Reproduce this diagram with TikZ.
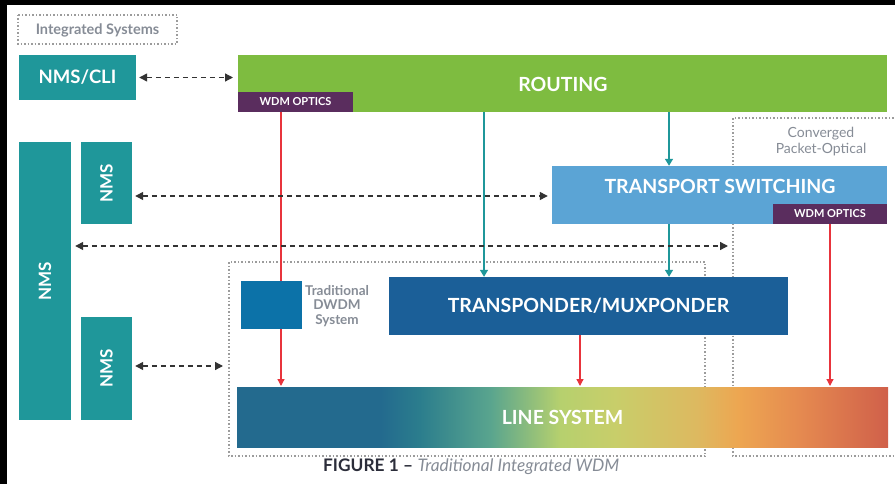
\documentclass[tikz,border=0pt]{standalone}
\usepackage{fontspec}
\setmainfont{Lato}
\usetikzlibrary{arrows.meta}
\definecolor{teal1}{HTML}{1F979A}
\definecolor{green1}{HTML}{7EBC40}
\definecolor{purp}{HTML}{5A2D5E}
\definecolor{tsblue}{HTML}{5BA4D5}
\definecolor{tmblue}{HTML}{1B5F98}
\definecolor{sqblue}{HTML}{0C72A8}
\definecolor{redA}{HTML}{E8343C}
\definecolor{dgray}{HTML}{333333}
\definecolor{dotgray}{HTML}{9C9C9C}
\definecolor{txtgray}{HTML}{868C96}
\definecolor{capdark}{HTML}{2B2D3A}
\definecolor{ls1}{HTML}{236A8E}
\definecolor{ls2}{HTML}{2B7D8D}
\definecolor{ls3}{HTML}{5AA58E}
\definecolor{ls4}{HTML}{B6D06E}
\definecolor{ls5}{HTML}{C8CE6A}
\definecolor{ls6}{HTML}{DDB960}
\definecolor{ls7}{HTML}{EDA651}
\definecolor{ls8}{HTML}{E58A50}
\definecolor{ls9}{HTML}{D0604A}
\pgfdeclarehorizontalshading{linesys}{100bp}{color(0bp)=(ls1); color(25bp)=(ls1); color(36bp)=(ls1); color(39bp)=(ls2); color(44.5bp)=(ls3); color(49.8bp)=(ls4); color(54bp)=(ls5); color(60.3bp)=(ls6); color(63.5bp)=(ls7); color(68.2bp)=(ls8); color(75bp)=(ls9); color(100bp)=(ls9)}
\tikzset{
  blk/.style={draw=none, inner sep=0pt, text=white, font=\bfseries\fontsize{19.5}{19.5}\selectfont},
  bigtxt/.style={text=white, inner sep=0pt, font=\bfseries\fontsize{19.5}{19.5}\selectfont},
  nmsbox/.style={blk, fill=teal1},
  nmstxt/.style={text=white, inner sep=0pt, rotate=90, font=\bfseries\fontsize{17}{17}\selectfont},
  wdm/.style={draw=none, fill=purp, inner sep=0pt, text=white, font=\bfseries\fontsize{11}{11}\selectfont},
  dashar/.style={draw=dgray, line width=1.3pt, dash pattern=on 5pt off 4pt, {Triangle[length=8pt,width=8pt]}-{Triangle[length=8pt,width=8pt]}},
  dotbox/.style={draw=dotgray, line width=1.5pt, dash pattern=on 1.5pt off 2pt},
  redar/.style={draw=redA, line width=1.3pt, -{Triangle[length=7pt,width=7pt]}},
  tealar/.style={draw=teal1, line width=1.3pt, -{Triangle[length=7pt,width=8pt]}},
  graytxt/.style={text=txtgray, align=center, inner sep=0pt},
}
\begin{document}
\begin{tikzpicture}[x=1pt,y=-1pt]
\useasboundingbox (0,0) rectangle (895,484);
\fill[black] (0,0) rectangle (895,484);
\fill[white] (7,5) rectangle (895,484);

% dotted frames
\draw[dotbox] (18,15) rectangle (177,44);
\node[graytxt, font=\bfseries\fontsize{14.5}{14.5}\selectfont] (intsys) at (97.5,30) {Integrated Systems};
\draw[dotbox] (229,262) rectangle (705,456);
\draw[dotbox] (897,118) -- (733,118) -- (733,456) -- (897,456);
\node[graytxt, font=\fontsize{14}{16}\selectfont] (conv) at (821,142) {Converged\\Packet-Optical};

% boxes
\node[nmsbox, minimum width=117pt, minimum height=45pt, font=\bfseries\fontsize{18.5}{18.5}\selectfont] (cli) at (77.5,77.5) {NMS/CLI};
\node[blk, fill=green1, minimum width=649pt, minimum height=57pt] (rout) at (562.5,83.5) {};
\node[bigtxt] (routl) at (563,84) {ROUTING};
\node[wdm, minimum width=115pt, minimum height=20pt] (wdm1) at (295.5,102) {WDM OPTICS};

\node[nmsbox, minimum width=52pt, minimum height=278pt] (nmsbig) at (45,281) {};
\node[nmstxt] at (nmsbig) {NMS};
\node[nmsbox, minimum width=51pt, minimum height=82pt] (nmstop) at (106.5,183) {};
\node[nmstxt] at (nmstop) {NMS};
\node[nmsbox, minimum width=51pt, minimum height=103pt] (nmsbot) at (106.5,368.5) {};
\node[nmstxt] at (nmsbot) {NMS};

\node[blk, fill=tsblue, minimum width=335pt, minimum height=58pt] (ts) at (719.5,195) {};
\node[bigtxt] at (720,186) {TRANSPORT SWITCHING};
\node[wdm, minimum width=114pt, minimum height=20pt] (wdm2) at (830,214) {WDM OPTICS};

% red arrows (under the square)
\coordinate (lstop1) at (281,386);
\coordinate (lstop2) at (580,386);
\coordinate (lstop3) at (830,386);
\draw[redar] (wdm1.south -| lstop1) -- (lstop1);

\node[blk, fill=tmblue, minimum width=399pt, minimum height=58pt] (tm) at (588.5,306) {TRANSPONDER/MUXPONDER};
\node[fill=sqblue, minimum width=61pt, minimum height=48pt, inner sep=0pt] (sq) at (271.5,305) {};
\node[graytxt, font=\bfseries\fontsize{13.5}{14.5}\selectfont] (tradl) at (337,306) {Traditional\\DWDM\\System};

\shade[shading=linesys] (237,387) rectangle (888,447);
\node[bigtxt] (ls) at (562.5,417) {LINE SYSTEM};

\draw[redar] (tm.south -| lstop2) -- (lstop2);
\draw[redar] (wdm2.south -| lstop3) -- (lstop3);

% teal arrows
\coordinate (t1) at (484,0);
\coordinate (t2) at (669,0);
\draw[tealar] (rout.south -| t1) -- (tm.north -| t1);
\draw[tealar] (rout.south -| t2) -- (ts.north -| t2);
\draw[tealar] (ts.south -| t2) -- (tm.north -| t2);

% dashed arrows
\coordinate (d1) at (233,77.5);
\draw[dashar] ([xshift=3pt]cli.east) -- (d1);
\draw[dashar] ([xshift=3pt]nmstop.east |- 0,196) -- ([xshift=-4pt]ts.west |- 0,196);
\coordinate (d2) at (728,246);
\draw[dashar] ([xshift=4pt]nmsbig.east |- d2) -- (d2);
\coordinate (d3) at (223,366);
\draw[dashar] ([xshift=3pt]nmsbot.east |- d3) -- (d3);

% caption
\node[inner sep=0pt, anchor=west, font=\fontsize{17.3}{17.3}\selectfont] (cap) at (323,467) {\textcolor{capdark}{\bfseries FIGURE 1 –} \textcolor{txtgray}{\itshape Traditional Integrated WDM}};
\end{tikzpicture}
\end{document}
